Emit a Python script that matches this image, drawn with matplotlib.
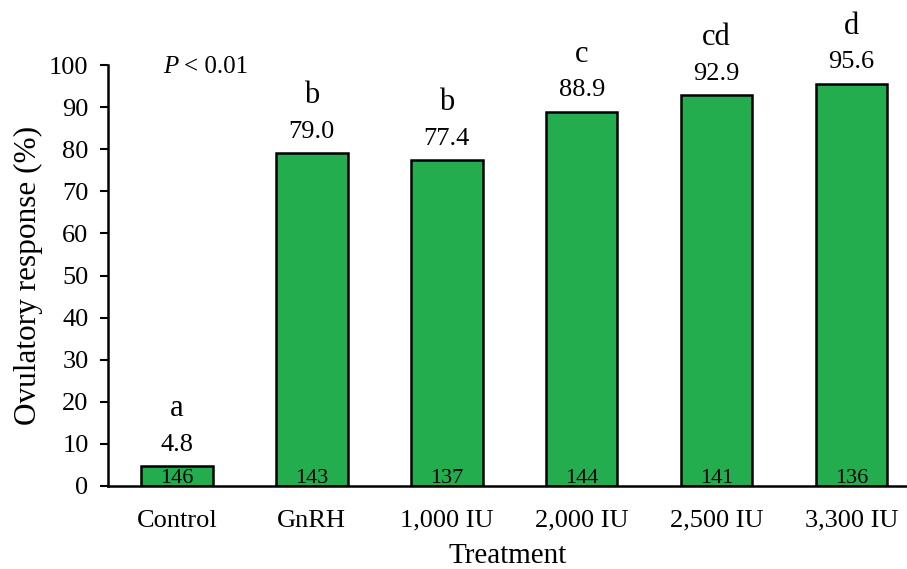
import matplotlib
matplotlib.use("Agg")
import matplotlib.pyplot as plt
import numpy as np

plt.rcParams["font.family"] = ["Liberation Serif", "DejaVu Serif"]

treatments = ["Control", "GnRH", "1,000 IU", "2,000 IU", "2,500 IU", "3,300 IU"]
response = [4.8, 79.0, 77.4, 88.9, 92.9, 95.6]
letters = ["a", "b", "b", "c", "cd", "d"]
n_cows = [146, 143, 137, 144, 141, 136]

BAR_COLOR = "#23AD4F"

fig = plt.figure(figsize=(9.07, 5.69), dpi=100)
ax = fig.add_axes([108 / 907, 1 - 486 / 569, 1 - 108 / 907, (486 - 65) / 569])

x = np.arange(len(treatments))
ax.bar(x, response, width=0.53, color=BAR_COLOR, edgecolor="black", linewidth=1.8)

for xi, val, let, n in zip(x, response, letters, n_cows):
    ax.annotate(f"{val:.1f}", (xi, val), xytext=(0, 11), textcoords="offset points",
                ha="center", va="baseline", fontsize=19)
    ax.annotate(let, (xi, val), xytext=(0, 36), textcoords="offset points",
                ha="center", va="baseline", fontsize=22)
    ax.text(xi, 0.8, str(n), ha="center", va="baseline", fontsize=16)

# significance note, italic P followed by the threshold
ax.text(163 / 907, 1 - 73 / 569, "P", style="italic", fontsize=18,
        ha="left", va="baseline", transform=fig.transFigure)
ax.text(184 / 907, 1 - 73 / 569, "< 0.01", fontsize=18,
        ha="left", va="baseline", transform=fig.transFigure)

ax.set_xlim(-0.51, 5.41)
ax.set_ylim(0, 100)
ax.set_yticks(np.arange(0, 101, 10))
ax.set_xticks(x)
ax.set_xticklabels(treatments, fontsize=19)
ax.tick_params(axis="y", labelsize=19, width=1.5, length=6, direction="out", pad=8)
ax.tick_params(axis="x", length=0, pad=17)
ax.spines[["top", "right"]].set_visible(False)
ax.spines["left"].set_linewidth(1.8)
ax.spines["bottom"].set_linewidth(1.8)

ax.set_ylabel("Ovulatory response (%)", fontsize=22.5, labelpad=4)
ax.set_xlabel("Treatment", fontsize=21, labelpad=8)

fig.savefig("out.png", dpi=100)
